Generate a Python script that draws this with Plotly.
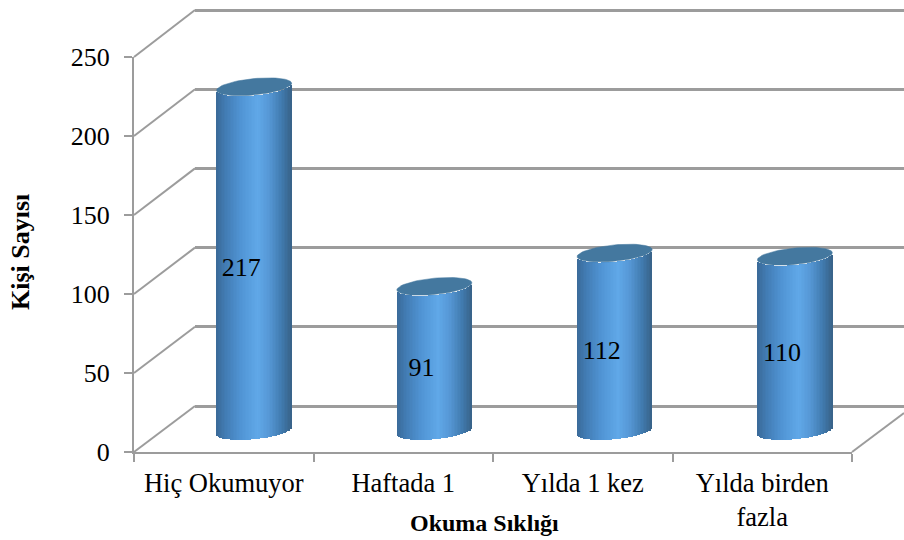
import math
import plotly.graph_objects as go

categories = ["Hiç Okumuyor", "Haftada 1", "Yılda 1 kez", "Yılda birden<br>fazla"]
values = [217, 91, 112, 110]
y_ticks = [0, 50, 100, 150, 200, 250]
x_title = "Okuma Sıklığı"
y_title = "Kişi Sayısı"

W, H = 904, 540
FONT = "Liberation Serif"
GRID = "#9c9c9c"


def px(x):
    return x / W


def py(y):
    return 1 - y / H


# pixels per unit on the cylinder axes
SX, SY = 180.25, 1.584
HALF_W = 37.5 / SX
TILT = 3.5 / SY
DEPTH = 8.2 / SY
Y2_MIN = -20
WALL_PAD = 5
STOPS = [(-1.0, (58, 106, 152)), (-0.75, (66, 124, 180)), (-0.35, (80, 148, 212)),
         (0.1, (96, 168, 232)), (0.4, (86, 152, 214)), (0.75, (64, 122, 174)),
         (1.0, (56, 98, 136))]


def shade(u):
    for (a, ca), (b, cb) in zip(STOPS, STOPS[1:]):
        if a <= u <= b:
            f = (u - a) / (b - a)
            return "rgb(%d,%d,%d)" % tuple(round(p + (q - p) * f) for p, q in zip(ca, cb))
    return "rgb(56,98,136)"


N = 50
xs, ys, bases, widths, colors = [], [], [], [], []
for i, v in enumerate(values):
    for k in range(N):
        u = -1 + (k + 0.5) * 2 / N
        front = TILT * u - DEPTH * math.sqrt(1 - u * u)
        xs.append(i + u * HALF_W)
        ys.append(v)
        bases.append(front)
        widths.append(2 * HALF_W / N * 1.35)
        colors.append(shade(u))

fig = go.Figure()

# back wall subplot (only grid lines)
fig.add_trace(go.Scatter(x=[0], y=[0], xaxis="x", yaxis="y", mode="markers",
                         marker=dict(opacity=0), hoverinfo="skip", showlegend=False))

# cylinders
fig.add_trace(go.Bar(x=xs, y=ys, base=bases, width=widths, xaxis="x2", yaxis="y2",
                     marker=dict(color=colors, line=dict(width=0)), cliponaxis=False,
                     hoverinfo="skip", showlegend=False))
for i, v in enumerate(values):
    ex, ey = [], []
    for k in range(73):
        t = 2 * math.pi * k / 72
        ex.append(i + HALF_W * math.cos(t))
        ey.append(v + TILT * math.cos(t) + DEPTH * math.sin(t))
    fig.add_trace(go.Scatter(x=ex, y=ey, xaxis="x2", yaxis="y2", mode="lines", fill="toself",
                             fillcolor="#44789f", line=dict(color="#44789f", width=0.5),
                             cliponaxis=False, hoverinfo="skip", showlegend=False))

# value labels
fig.add_trace(go.Scatter(x=[i - 0.072 for i in range(len(values))],
                         y=[v / 2 - 7 for v in values],
                         text=[str(v) for v in values], mode="text",
                         textfont=dict(family=FONT, size=26, color="#000000"),
                         xaxis="x2", yaxis="y2", cliponaxis=False, showlegend=False))

# front axes
fig.add_trace(go.Bar(x=categories, y=[0] * 4, xaxis="x3", yaxis="y3", hoverinfo="skip",
                     showlegend=False, marker=dict(opacity=0)))

tick_font = dict(family=FONT, size=26, color="#000000")
cat_font = dict(family=FONT, size=26.5, color="#000000")
layout = dict(
    template="none",
    width=W, height=H, margin=dict(l=0, r=0, t=0, b=0), autosize=False,
    paper_bgcolor="#ffffff", plot_bgcolor="rgba(0,0,0,0)", barmode="overlay", bargap=0,
    font=dict(family=FONT),
    # wall
    xaxis=dict(domain=[px(195), 1], range=[0, 1], showgrid=False, zeroline=False,
               showticklabels=False, ticks="", anchor="y", automargin=False),
    yaxis=dict(domain=[py(406 + WALL_PAD * SY), py(10 - WALL_PAD * SY)],
               range=[-WALL_PAD, 250 + WALL_PAD], tickvals=y_ticks, showgrid=True,
               gridcolor=GRID, gridwidth=2.5, zeroline=False, showticklabels=False,
               ticks="", anchor="x", automargin=False),
    # cylinders
    xaxis2=dict(domain=[px(164), px(885)], range=[-0.5, 3.5], visible=False, anchor="y2",
                automargin=False),
    yaxis2=dict(domain=[py(430.5 - Y2_MIN * SY), py(34.5)], range=[Y2_MIN, 250], visible=False,
                anchor="x2", automargin=False),
    # front
    xaxis3=dict(domain=[px(134), px(852)], type="category", categoryorder="array",
                categoryarray=categories, tickson="boundaries", ticks="outside", ticklen=8,
                tickwidth=1.5, tickcolor=GRID, showline=True, linecolor=GRID, linewidth=2,
                showgrid=False, zeroline=False, tickfont=cat_font, anchor="y3",
                ticklabelstandoff=6, automargin=False),
    yaxis3=dict(domain=[py(452), py(57)], range=[0, 250], tickvals=y_ticks, ticks="outside",
                ticklen=8, tickwidth=1.5, tickcolor=GRID, showline=True, linecolor=GRID,
                linewidth=2, showgrid=False, zeroline=False, tickfont=tick_font, anchor="x3",
                ticklabelstandoff=9, automargin=False),
    annotations=[
        dict(text="<b>%s</b>" % x_title, xref="paper", yref="paper", x=px(484), y=py(523),
             xanchor="center", yanchor="middle", showarrow=False,
             font=dict(family=FONT, size=24, color="#000000")),
        dict(text="<b>%s</b>" % y_title, xref="paper", yref="paper", x=px(20), y=py(252),
             xanchor="center", yanchor="middle", textangle=-90, showarrow=False,
             font=dict(family=FONT, size=26, color="#000000")),
    ],
    shapes=[
        dict(type="line", xref="paper", yref="paper", layer="below", x0=px(a), y0=py(b), x1=px(c), y1=py(d),
             line=dict(color=GRID, width=2))
        for a, b, c, d in [(134, 57 + 79 * k, 195, 10 + 79.2 * k) for k in range(6)] + [(852, 452, 904, 413)]
    ],
)
fig.update_layout(**layout)
fig.write_html("out.html", post_script="document.body.style.margin='0';",
               config=dict(displayModeBar=False))
